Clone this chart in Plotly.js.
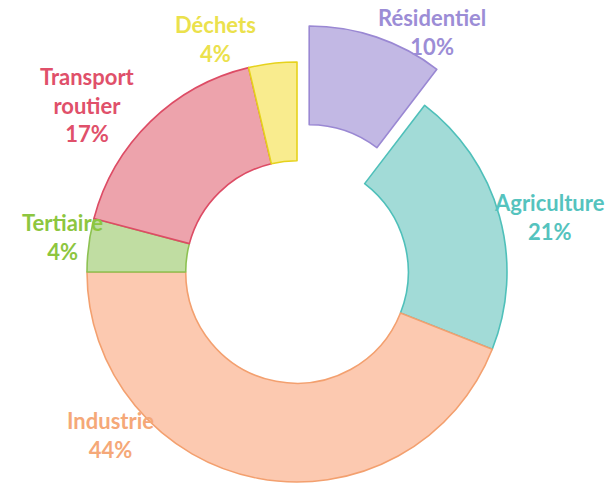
<!DOCTYPE html>
<html>
<head>
<meta charset="utf-8">
<script src="https://cdn.plot.ly/plotly-3.0.1.min.js"></script>
<style>html,body{margin:0;padding:0;background:#fff;overflow:hidden}#chart{width:613px;height:483px}</style>
</head>
<body>
<div id="chart"></div>
<script>
// Data
const categories = ["Résidentiel", "Agriculture", "Industrie", "Tertiaire", "Transport<br>routier", "Déchets"];
const values = [10.4, 20.6, 44.0, 4.1, 17.2, 3.7];
const pulledCategory = "Résidentiel";

// Styles
const fillColors = ["#c2b8e4", "#a2dbd7", "#fcc9b0", "#c0dda2", "#eda3ac", "#f9ec8e"];
const lineColors = ["#9a88d3", "#4fc0ba", "#f3a06f", "#8dc152", "#dd4c65", "#e6d21c"];
const labelColors = ["#9c8dd6", "#55c3be", "#f5a878", "#8dc63f", "#e0506a", "#ebe14c"];
// label block centres in pixels
const labelPos = [[432, 32], [549, 217], [110, 435], [62, 237], [87, 105], [215, 39]];

const W = 613, H = 483;
const cx = 297, cy = 272, R = 210;
const pullDist = 38;

function domainFor(x, y) {
  return { x: [(x - R) / W, (x + R) / W], y: [1 - (y + R) / H, 1 - (y - R) / H] };
}

const total = values.reduce((a, b) => a + b, 0);
const pIdx = categories.indexOf(pulledCategory);
let before = 0;
for (let i = 0; i < pIdx; i++) before += values[i];
const midAng = (before + values[pIdx] / 2) / total * 2 * Math.PI;
const pcx = cx + pullDist * Math.sin(midAng);
const pcy = cy - pullDist * Math.cos(midAng);

const base = {
  type: "pie",
  labels: categories,
  values: values,
  sort: false,
  direction: "clockwise",
  rotation: 0,
  hole: 0.53,
  textinfo: "none",
  hoverinfo: "label+percent",
  showlegend: false
};

const traceMain = Object.assign({}, base, {
  domain: domainFor(cx, cy),
  marker: {
    colors: fillColors.map((c, i) => i === pIdx ? "rgba(0,0,0,0)" : c),
    line: { color: lineColors.map((c, i) => i === pIdx ? "rgba(0,0,0,0)" : c), width: 1.6 }
  }
});

const tracePulled = Object.assign({}, base, {
  domain: domainFor(pcx, pcy),
  marker: {
    colors: fillColors.map((c, i) => i === pIdx ? c : "rgba(0,0,0,0)"),
    line: { color: lineColors.map((c, i) => i === pIdx ? c : "rgba(0,0,0,0)"), width: 1.6 }
  }
});

const annotations = categories.map((c, i) => ({
  xref: "paper", yref: "paper",
  x: labelPos[i][0] / W, y: 1 - labelPos[i][1] / H,
  xanchor: "center", yanchor: "middle",
  showarrow: false,
  text: c + "<br>" + Math.round(values[i] / total * 100) + "%",
  font: { family: "Lato, 'Open Sans', sans-serif", size: 22, weight: 700, color: labelColors[i] },
  align: "center"
}));

const layout = {
  width: W, height: H,
  margin: { l: 0, r: 0, t: 0, b: 0 },
  paper_bgcolor: "#ffffff",
  annotations: annotations
};

Plotly.newPlot("chart", [traceMain, tracePulled], layout, { displayModeBar: false, staticPlot: true });
</script>
</body>
</html>
